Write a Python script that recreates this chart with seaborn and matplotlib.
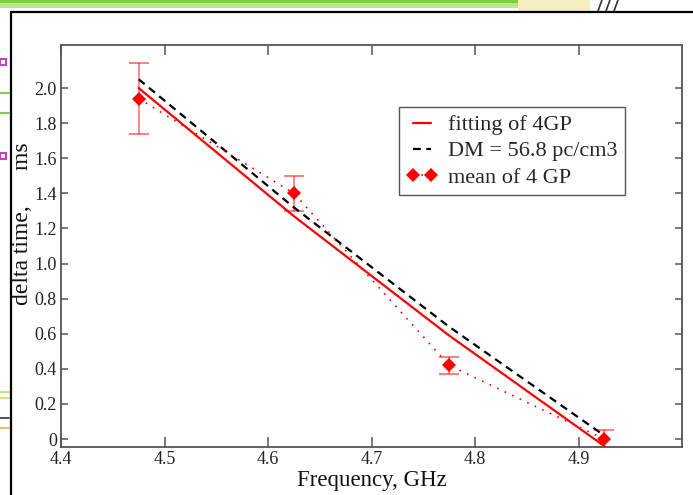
import numpy as np
import pandas as pd
import matplotlib
matplotlib.use("Agg")
import matplotlib.pyplot as plt
import seaborn as sns
from matplotlib.lines import Line2D
from matplotlib.patches import Rectangle

# Observing frequencies (GHz) and measured delays (ms)
freq = [4.475, 4.625, 4.775, 4.925]
mean_delay = [1.94, 1.40, 0.42, 0.00]
mean_err = [0.20, 0.10, 0.05, 0.05]

# Fitted delay curve and the curve for DM = 56.8 pc/cm3, at the same frequencies
fit_delay = [2.00, 1.27, 0.59, -0.04]
dm_delay = [2.05, 1.32, 0.64, 0.02]

x_ticks = [4.4, 4.5, 4.6, 4.7, 4.8, 4.9]
x_tick_labels = ["4.4", "4.5", "4.6", "4.7", "4.8", "4.9"]
y_ticks = [0.0, 0.2, 0.4, 0.6, 0.8, 1.0, 1.2, 1.4, 1.6, 1.8, 2.0]
y_tick_labels = ["0", "0.2", "0.4", "0.6", "0.8", "1.0", "1.2", "1.4", "1.6", "1.8", "2.0"]

series_labels = ["fitting of 4GP", "DM = 56.8 pc/cm3", "mean of 4 GP"]

sns.set_theme(style="ticks")
plt.rcParams["font.family"] = ["Liberation Serif", "DejaVu Serif"]

W, H = 693, 495
fig = plt.figure(figsize=(W / 100, H / 100), dpi=100)
fig.patch.set_facecolor("white")

# page frame around the plot
fig.add_artist(Rectangle((0, 1 - 8 / H), 518 / W, 8 / H, transform=fig.transFigure,
                         facecolor="#b9e88a", edgecolor="none"))
fig.add_artist(Rectangle((0, 1 - 3 / H), 518 / W, 3 / H, transform=fig.transFigure,
                         facecolor="#7fcf3f", edgecolor="none"))
fig.add_artist(Rectangle((518 / W, 1 - 11 / H), 72 / W, 11 / H, transform=fig.transFigure,
                         facecolor="#f4eec0", edgecolor="none"))
for x0 in (598, 606, 614):
    fig.add_artist(Line2D([x0 / W, (x0 + 4) / W], [1 - 11 / H, 1.0], transform=fig.transFigure,
                          color="#333333", lw=1.2))
for y0 in (62, 156):
    fig.add_artist(Rectangle((0, 1 - (y0 + 3) / H), 6 / W, 6 / H, transform=fig.transFigure,
                             facecolor="white", edgecolor="#c040c0", lw=1.5))
for y0, c in ((93, "#7fcf3f"), (113, "#7fcf3f"), (392, "#b9e88a"), (398, "#d8e870"),
              (418, "#555555"), (428, "#f0c060")):
    fig.add_artist(Line2D([0, 9 / W], [1 - y0 / H, 1 - y0 / H], transform=fig.transFigure,
                          color=c, lw=1.5))
fig.add_artist(Line2D([11 / W, 11 / W], [0, 1 - 12 / H], transform=fig.transFigure,
                      color="black", lw=1.6))
fig.add_artist(Line2D([11 / W, 1.0], [1 - 12 / H, 1 - 12 / H], transform=fig.transFigure,
                      color="black", lw=1.6))

ax = fig.add_axes([61 / W, 1 - 447 / H, (682 - 61) / W, (447 - 45) / H])
ax.set_facecolor("white")

df_fit = pd.DataFrame({"freq": freq, "delay": fit_delay})
df_dm = pd.DataFrame({"freq": freq, "delay": dm_delay})
df_mean = pd.DataFrame({"freq": freq, "delay": mean_delay})

sns.lineplot(data=df_fit, x="freq", y="delay", ax=ax, color="#ff0000", lw=1.6,
             label=series_labels[0], zorder=3)
sns.lineplot(data=df_dm, x="freq", y="delay", ax=ax, color="black", lw=1.6,
             linestyle=(0, (3.5, 2.5)), label=series_labels[1], zorder=3)
ax.errorbar(freq, mean_delay, yerr=mean_err, fmt="none", ecolor=(1, 0, 0, 0.5),
            elinewidth=1.3, capsize=7, capthick=1.4, zorder=2)
sns.lineplot(data=df_mean, x="freq", y="delay", ax=ax, color="#ff0000", lw=1.2,
             linestyle=(0, (1, 4)), marker="D", markersize=7, markeredgewidth=0,
             label=series_labels[2], zorder=4)

ax.set_xlim(4.4, 5.0)
ax.set_ylim(-0.045, 2.245)
ax.set_xticks(x_ticks)
ax.set_xticklabels(x_tick_labels)
ax.set_yticks(y_ticks)
ax.set_yticklabels(y_tick_labels)

for s in ax.spines.values():
    s.set_color("#555555")
    s.set_linewidth(1.3)
ax.tick_params(axis="x", which="major", direction="in", length=7, width=1.1,
               color="#555555", top=True, bottom=True, labelsize=13, pad=3,
               labelcolor="#222222")
ax.tick_params(axis="y", which="major", direction="in", length=5, width=1.1,
               color="#555555", left=True, right=True, labelsize=13, pad=3,
               labelcolor="#222222")

ax.set_xlabel("Frequency, GHz", fontsize=16.5, color="#111111", labelpad=1)
ax.set_ylabel("delta time,      ms", fontsize=17, color="#111111")
ax.yaxis.set_label_coords(-0.045, 0.555)

leg = ax.legend(loc="upper left", bbox_to_anchor=(399 / W, 1 - 107 / H),
                bbox_transform=fig.transFigure, borderaxespad=0, numpoints=2,
                fontsize=16, frameon=True, fancybox=False, framealpha=1,
                handlelength=1.4, handletextpad=0.45, labelspacing=0.25,
                borderpad=0.35)
leg.get_frame().set_edgecolor("#555555")
leg.get_frame().set_linewidth(1.0)

fig.savefig("out.png", dpi=100, facecolor="white")
